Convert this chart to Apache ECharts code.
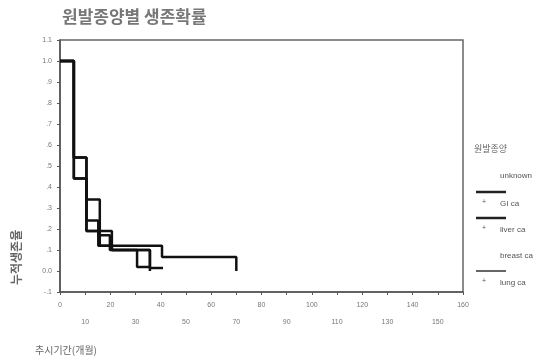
<!DOCTYPE html>
<html>
<head>
<meta charset="utf-8">
<script src="https://cdn.jsdelivr.net/npm/echarts@6/dist/echarts.min.js"></script>
<style>
  html, body { margin: 0; padding: 0; background: #fff; }
  #chart { width: 540px; height: 364px; }
</style>
</head>
<body>
<div id="chart"></div>
<script>
// survival steps (months, cumulative survival)
const unknownT = [0, 5.5, 10.5, 15.8, 40.5, 70];
const unknownS = [1.0, 0.54, 0.34, 0.12, 0.067, 0.0];
const giT = [0, 5.5, 10.5, 20.6, 35.7];
const giS = [1.0, 0.44, 0.19, 0.10, 0.0];
const liverT = [0, 5.5, 10.5, 15.2, 19.8, 30.6, 35.7];
const liverS = [1.0, 0.54, 0.24, 0.17, 0.10, 0.019, 0.019];
const lungT = [0, 5.5, 10.5, 15.2, 20.6, 35.7, 40.9];
const lungS = [1.0, 0.44, 0.19, 0.12, 0.10, 0.014, 0.014];

const yTickLabels = {
  '1.1': '1.1', '1': '1.0', '0.9': '.9', '0.8': '.8', '0.7': '.7', '0.6': '.6',
  '0.5': '.5', '0.4': '.4', '0.3': '.3', '0.2': '.2', '0.1': '.1', '0': '0.0', '-0.1': '-.1'
};
const groupNames = ['unknown', 'GI ca', 'liver ca', 'breast ca', 'lung ca'];

function pairs(t, s) {
  return t.map((v, i) => [v, s[i]]);
}

function stepSeries(name, t, s) {
  return {
    name: name,
    type: 'line',
    step: 'end',
    symbol: 'none',
    silent: true,
    lineStyle: {color: '#111', width: 2.5},
    data: pairs(t, s),
  };
}

const chart = echarts.init(document.getElementById('chart'), null, {renderer: 'canvas'});

const option = {
  animation: false,
  backgroundColor: '#fff',
  grid: {
    left: 60,
    right: 77,
    top: 40,
    bottom: 72,
    show: true,
    borderColor: '#666',
    borderWidth: 1.5,
  },
  xAxis: {
    type: 'value',
    min: 0,
    max: 160,
    interval: 10,
    axisLine: {onZero: false, lineStyle: {color: '#555', width: 1.5}},
    axisTick: {length: 3, lineStyle: {color: '#555'}},
    splitLine: {show: false},
    axisLabel: {
      color: '#777',
      fontSize: 7,
      lineHeight: 17,
      margin: 5,
      formatter: v => (v % 20 === 0 ? String(v) : '\n' + v),
    },
  },
  yAxis: {
    type: 'value',
    min: -0.1,
    max: 1.1,
    interval: 0.1,
    axisLine: {onZero: false, lineStyle: {color: '#555', width: 1.5}},
    axisTick: {length: 3, lineStyle: {color: '#555'}},
    splitLine: {show: false},
    axisLabel: {
      color: '#777',
      fontSize: 7,
      margin: 8,
      formatter: v => yTickLabels[String(Math.round(v * 10) / 10)] || '',
    },
  },
  series: [
    stepSeries('unknown', unknownT, unknownS),
    stepSeries('GI ca', giT, giS),
    stepSeries('liver ca', liverT, liverS),
    stepSeries('lung ca', lungT, lungS),
  ],
  graphic: [
    {type: 'text', left: 62, top: 8,
      style: {text: '원발종양별 생존확률', font: 'bold 17px "Noto Sans CJK KR"', fill: '#777'}},
    {type: 'text', left: 35, top: 345,
      style: {text: '추시기간(개월)', font: '10px "Noto Sans CJK KR"', fill: '#666'}},
    {type: 'text', x: 16, y: 285, rotation: Math.PI / 2,
      style: {text: '누적생존율', font: 'bold 12px "Noto Sans CJK KR"', fill: '#666', align: 'left', verticalAlign: 'middle'}},
    // legend
    {type: 'text', left: 474, top: 144,
      style: {text: '원발종양', font: '9px "Noto Sans CJK KR"', fill: '#666'}},
    {type: 'text', left: 500, top: 172, style: {text: groupNames[0], font: '8px Arial', fill: '#555'}},
    {type: 'line', shape: {x1: 476, y1: 192, x2: 506, y2: 192}, style: {stroke: '#222', lineWidth: 2.5}},
    {type: 'text', left: 482, top: 199, style: {text: '+', font: '7px Arial', fill: '#555'}},
    {type: 'text', left: 500, top: 200, style: {text: groupNames[1], font: '8px Arial', fill: '#555'}},
    {type: 'line', shape: {x1: 476, y1: 218, x2: 506, y2: 218}, style: {stroke: '#222', lineWidth: 2.5}},
    {type: 'text', left: 482, top: 225, style: {text: '+', font: '7px Arial', fill: '#555'}},
    {type: 'text', left: 500, top: 226, style: {text: groupNames[2], font: '8px Arial', fill: '#555'}},
    {type: 'text', left: 500, top: 252, style: {text: groupNames[3], font: '8px Arial', fill: '#555'}},
    {type: 'line', shape: {x1: 476, y1: 271, x2: 506, y2: 271}, style: {stroke: '#333', lineWidth: 1.5}},
    {type: 'text', left: 482, top: 278, style: {text: '+', font: '7px Arial', fill: '#555'}},
    {type: 'text', left: 500, top: 279, style: {text: groupNames[4], font: '8px Arial', fill: '#555'}},
  ],
};

chart.setOption(option);
</script>
</body>
</html>
